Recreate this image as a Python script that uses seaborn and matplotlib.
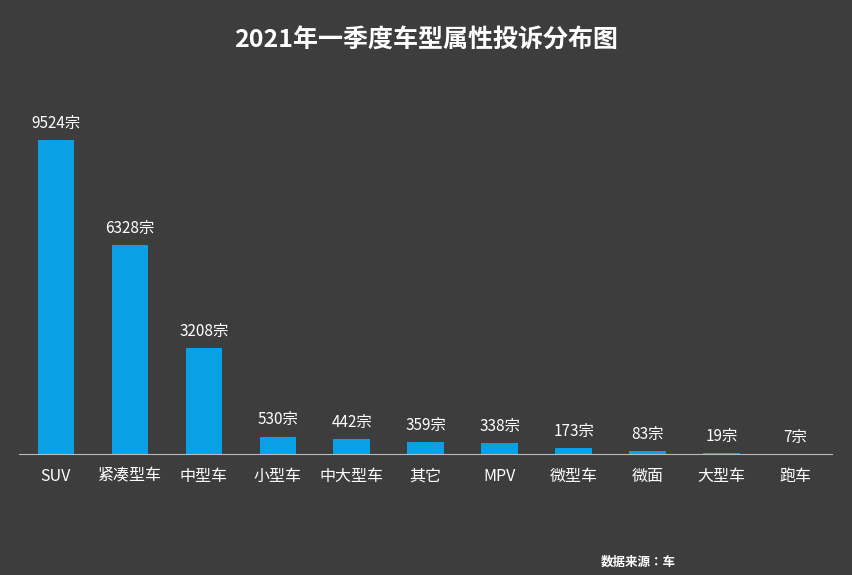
import matplotlib
matplotlib.use("Agg")
import matplotlib.pyplot as plt
from matplotlib import font_manager as fm
import seaborn as sns
import pandas as pd

categories = ["SUV", "紧凑型车", "中型车", "小型车", "中大型车", "其它", "MPV", "微型车", "微面", "大型车", "跑车"]
values = [9524, 6328, 3208, 530, 442, 359, 338, 173, 83, 19, 7]

cjk = [f for f in fm.findSystemFonts() if "CJK" in f or "cjk" in f.lower()]
for f in cjk:
    try:
        fm.fontManager.addfont(f)
    except Exception:
        pass
names = sorted({fm.FontProperties(fname=f).get_name() for f in cjk})
fam = next((n for n in names if "SC" in n), names[0] if names else "DejaVu Sans")
plt.rcParams["font.family"] = "sans-serif"
plt.rcParams["font.sans-serif"] = [fam, "Noto Sans CJK SC", "DejaVu Sans"]

bg = "#3d3d3d"
fig = plt.figure(figsize=(8.52, 5.75), dpi=100, facecolor=bg)
ax = fig.add_axes([0.022, 0.2104, 0.955, 354/575])
ax.set_facecolor(bg)
df = pd.DataFrame({"cat": categories, "val": values})
sns.barplot(data=df, x="cat", y="val", color="#0aa0e6", width=0.49, ax=ax, saturation=1)
ax.set_ylim(0, 9524*354/314)
ax.set_xlim(-0.5, len(categories)-0.5)
for i, v in enumerate(values):
    ax.text(i, v + 250, f"{v}宗", ha="center", va="bottom", color="white", fontsize=11)
ax.set_xlabel(""); ax.set_ylabel("")
ax.set_yticks([])
ax.tick_params(axis="x", length=0, colors="white", labelsize=11.5, pad=10)
for s in ["top", "right", "left"]:
    ax.spines[s].set_visible(False)
ax.spines["bottom"].set_color("#bbbbbb")
fig.text(0.5, 0.93, "2021年一季度车型属性投诉分布图", ha="center", va="center", color="white", fontsize=18, fontweight="bold")
fig.text(0.705, 0.022, "数据来源：车", ha="left", va="center", color="white", fontsize=9, fontweight="bold")
fig.savefig("out.png", dpi=100, facecolor=bg)
